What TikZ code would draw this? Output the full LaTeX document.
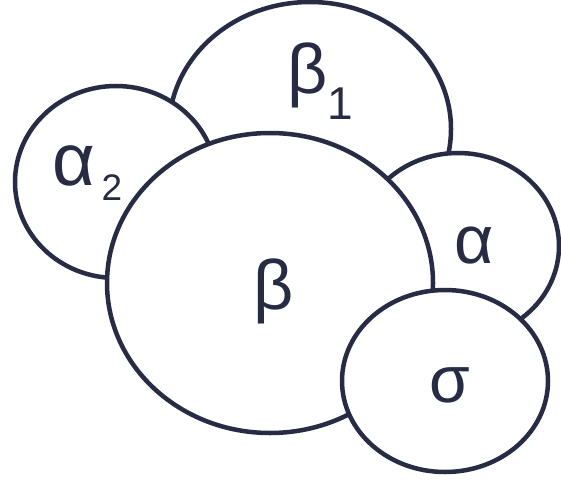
\documentclass[tikz,border=0pt]{standalone}
\usepackage{fontspec}
\newfontfamily\gk{Liberation Sans}
\definecolor{ink}{HTML}{272C44}
\begin{document}
\begin{tikzpicture}[x=1pt,y=-1pt,
  bubble/.style={draw=ink,line width=4.5pt,fill=white},
  lbl/.style={inner sep=0pt,anchor=base,text=ink}]
\useasboundingbox (0,0) rectangle (561,481);
% painter's order: back to front
\draw[bubble] (310,129) ellipse [x radius=141, y radius=127];
\draw[bubble] (116,182) ellipse [x radius=101, y radius=96];
\draw[bubble] (458,246) ellipse [x radius=101, y radius=93];
\draw[bubble] (270,283) ellipse [x radius=163, y radius=150];
\draw[bubble] (445,381) ellipse [x radius=103, y radius=91];
% labels
\node[lbl] (b1) at (308,94) {\gk\fontsize{70}{70}\selectfont β};
\node[lbl] (b1s) at (340,120) {\gk\fontsize{46}{46}\selectfont 1};
\node[lbl] (a2) at (74,185) {\gk\fontsize{74}{74}\selectfont α};
\node[lbl] (a2s) at (112,200) {\gk\fontsize{37}{37}\selectfont 2};
\node[lbl] (a) at (474,263) {\gk\fontsize{68}{68}\selectfont α};
\node[lbl] (b) at (274,309) {\gk\fontsize{70}{70}\selectfont β};
\node[lbl] (s) at (450,402) {\gk\fontsize{66}{66}\selectfont σ};
\end{tikzpicture}
\end{document}
